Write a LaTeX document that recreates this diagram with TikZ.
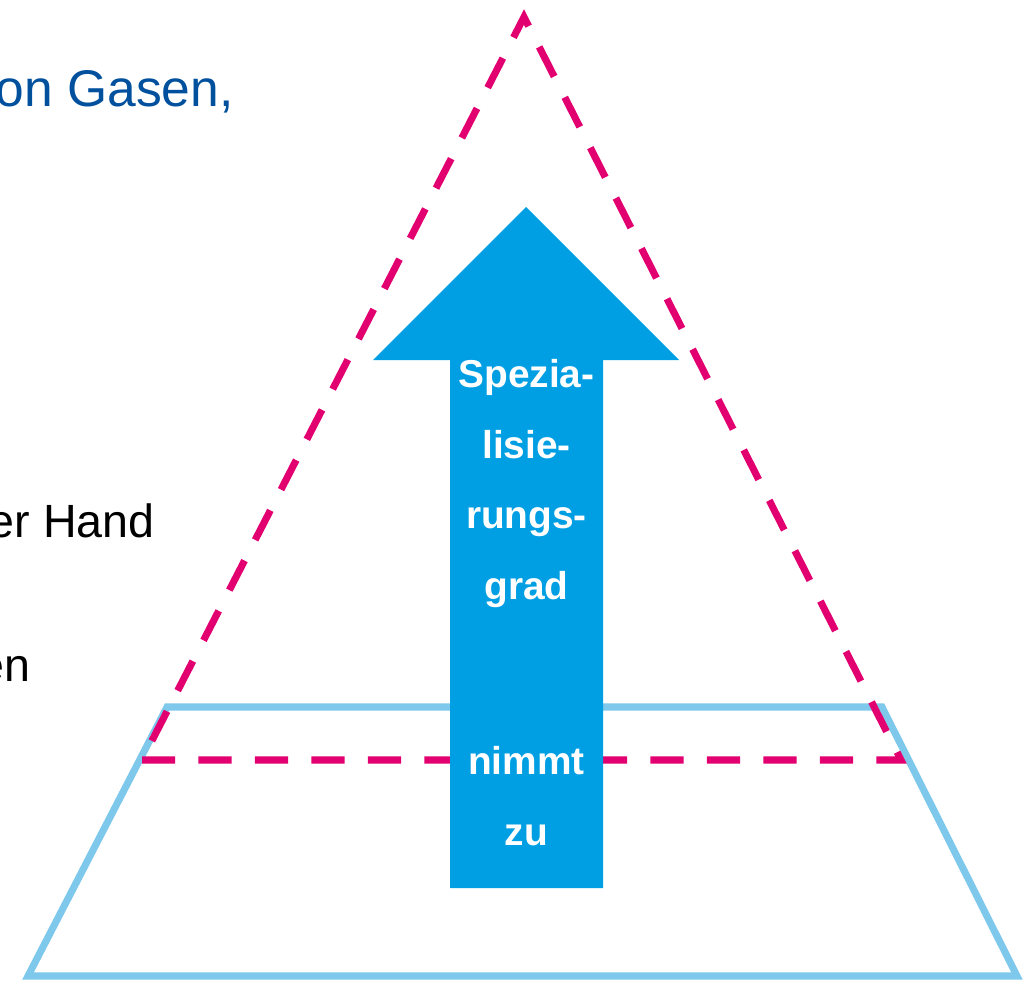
\documentclass[tikz,border=0pt]{standalone}
\usepackage{fontspec}
\setmainfont{Liberation Sans}
\definecolor{pfeilblau}{RGB}{0,159,227}
\definecolor{hellblau}{RGB}{125,200,235}
\definecolor{pyramagenta}{RGB}{226,0,112}
\definecolor{titelblau}{RGB}{0,80,158}
\begin{document}
\begin{tikzpicture}[x=0.708pt,y=-0.708pt,
    randtext/.style={anchor=base east, inner sep=0pt, font=\fontsize{33}{40}\selectfont},
    pfeiltext/.style={anchor=base, inner sep=0pt, text=white, font=\fontsize{27.5}{32}\selectfont\bfseries}]

  \useasboundingbox (0,0) rectangle (1032,982);
  \clip (0,0) rectangle (1032,982);

  % Text am linken Rand (abgeschnitten)
  \node[randtext, text=titelblau, font=\fontsize{36.5}{44}\selectfont] (gasen) at (234,107) {on Gasen,};
  \node[randtext] (hand) at (155,537) {er Hand};
  \node[randtext] (en) at (31,681) {en};

  % Trapez (Basis)
  \draw[hellblau, line width=5pt] (167,707) -- (882,707) -- (1017,976) -- (28,976) -- cycle;

  % Gestricheltes Dreieck
  \draw[pyramagenta, line width=5pt, dash pattern=on 23.5pt off 16.5pt]
    (142,760) -- (901,760) -- (524,17) -- cycle;

  % Pfeil nach oben
  \fill[pfeilblau] (450,888) -- (450,360) -- (373,360) -- (526,207)
    -- (679,360) -- (603,360) -- (603,888) -- cycle;

  % Beschriftung im Pfeil
  \foreach \t/\y [count=\i] in {Spezia-/387, lisie-/458, rungs-/528, grad/599, nimmt/774, zu/845}
    \node[pfeiltext] (z\i) at (526.5,\y) {\t};

\end{tikzpicture}
\end{document}
